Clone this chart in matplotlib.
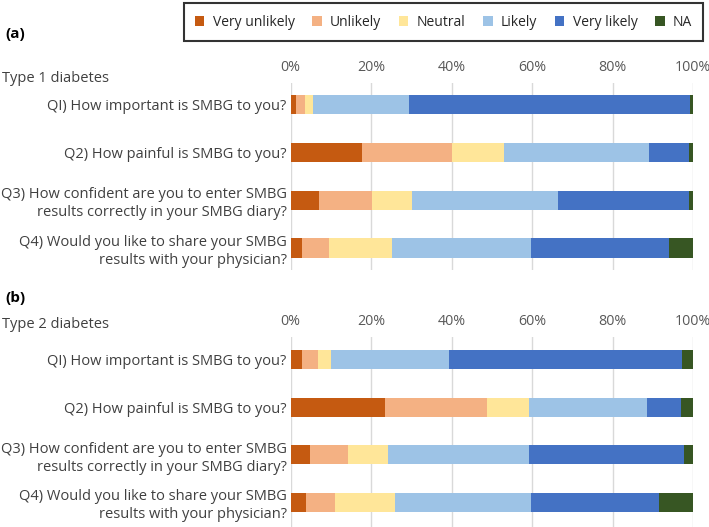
import matplotlib
matplotlib.use("Agg")
import matplotlib.pyplot as plt
from matplotlib.patches import Patch
import numpy as np

plt.rcParams['font.family'] = ['Open Sans', 'DejaVu Sans']

categories = ["Very unlikely", "Unlikely", "Neutral", "Likely", "Very likely", "NA"]
colors = ["#C55A11", "#F4B183", "#FFE699", "#9DC3E6", "#4472C4", "#375623"]
questions = [
    "QI) How important is SMBG to you?",
    "Q2) How painful is SMBG to you?",
    "Q3) How confident are you to enter SMBG\nresults correctly in your SMBG diary?",
    "Q4) Would you like to share your SMBG\nresults with your physician?",
]
# rows: questions; columns: categories (percent)
type1 = [
    [1.3, 2.3, 1.9, 23.8, 69.9, 0.8],
    [17.7, 22.4, 12.9, 36.0, 10.0, 1.0],
    [7.0, 13.2, 10.0, 36.1, 32.7, 1.0],
    [2.8, 6.8, 15.5, 34.6, 34.2, 6.1],
]
type2 = [
    [2.7, 4.0, 3.4, 29.2, 57.8, 2.9],
    [23.3, 25.5, 10.5, 29.2, 8.4, 3.1],
    [4.8, 9.5, 9.8, 35.1, 38.6, 2.2],
    [3.7, 7.3, 14.8, 34.0, 31.8, 8.4],
]
xticks = [0, 20, 40, 60, 80, 100]
xticklabels = ["0%", "20%", "40%", "60%", "80%", "100%"]

W, H = 709, 527
fig = plt.figure(figsize=(W / 100, H / 100), dpi=100)

def px_axes(x0, y0, x1, y1):
    return fig.add_axes([x0 / W, 1 - y1 / H, (x1 - x0) / W, (y1 - y0) / H])

def draw(ax, data, ylim):
    data = np.array(data)
    y = np.arange(len(questions))
    left = np.zeros(len(questions))
    for j, cat in enumerate(categories):
        ax.barh(y, data[:, j], left=left, height=0.4, color=colors[j], label=cat, zorder=3)
        left += data[:, j]
    ax.set_xlim(0, 100)
    ax.set_ylim(*ylim)
    ax.set_yticks(y)
    ax.set_yticklabels(questions, fontsize=10.5, color="#404040", ha="right", linespacing=1.25)
    ax.xaxis.tick_top()
    ax.set_xticks(xticks)
    ax.set_xticklabels(xticklabels, fontsize=10.3, color="#595959")
    ax.tick_params(axis="both", length=0)
    ax.tick_params(axis="x", pad=6)
    ax.tick_params(axis="y", pad=3)
    ax.grid(axis="x", color="#D9D9D9", linewidth=1, zorder=0)
    for s in ax.spines.values():
        s.set_visible(False)

ax1 = px_axes(290.7, 83, 693.3, 270)
draw(ax1, type1, (3.46, -0.45))
ax2 = px_axes(290.7, 337, 693.3, 527)
draw(ax2, type2, (3.52, -0.48))

fig.text(5 / W, 1 - 34 / H, "(a)", fontsize=11, fontweight="bold", va="center", ha="left")
fig.text(2 / W, 1 - 78 / H, "Type 1 diabetes", fontsize=10.5, color="#404040", va="center", ha="left")
fig.text(5 / W, 1 - 298 / H, "(b)", fontsize=11, fontweight="bold", va="center", ha="left")
fig.text(2 / W, 1 - 325 / H, "Type 2 diabetes", fontsize=10.5, color="#404040", va="center", ha="left")

handles = [Patch(facecolor=c, edgecolor="none", label=l) for c, l in zip(colors, categories)]
leg = fig.legend(handles=handles, ncol=6, loc="center", bbox_to_anchor=(443.5 / W, 1 - 22 / H),
                 fontsize=10, frameon=True, fancybox=False, edgecolor="black",
                 handlelength=0.7, handleheight=0.7, handletextpad=0.6, columnspacing=1.25,
                 borderpad=0.8, borderaxespad=0)
leg.get_frame().set_linewidth(1.5)
for t in leg.get_texts():
    t.set_color("#262626")

fig.savefig("out.png", dpi=100)
